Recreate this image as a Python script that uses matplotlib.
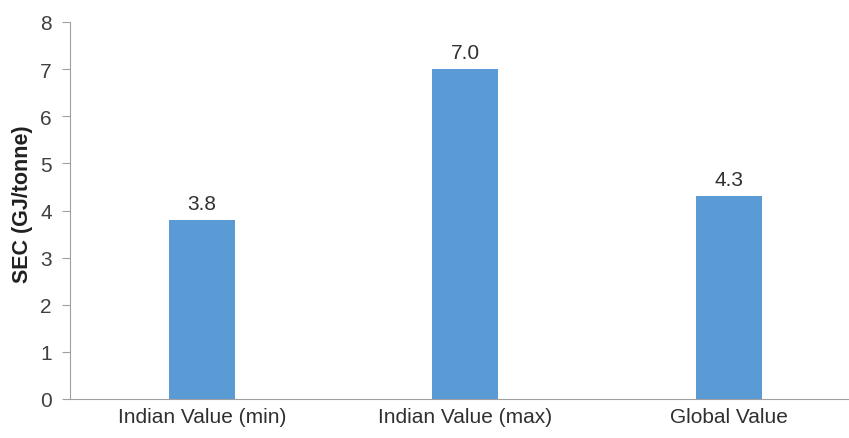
import matplotlib
matplotlib.use("Agg")
import matplotlib.pyplot as plt

categories = ["Indian Value (min)", "Indian Value (max)", "Global Value"]
sec_values = [3.8, 7.0, 4.3]
y_ticks = [0, 1, 2, 3, 4, 5, 6, 7, 8]

plt.rcParams["font.family"] = ["Liberation Sans", "DejaVu Sans"]

fig = plt.figure(figsize=(8.49, 4.39), dpi=100)
ax = fig.add_axes([70 / 849, 1 - 400 / 439, 1 - 70 / 849, (400 - 23) / 439])

x = range(len(categories))
bars = ax.bar(x, sec_values, width=0.25, color="#5B9BD5")
for b, v in zip(bars, sec_values):
    ax.text(b.get_x() + b.get_width() / 2, v + 0.15, f"{v:.1f}",
            ha="center", va="bottom", fontsize=15, color="#303030")

ax.set_xlim(-0.5, 2.455)
ax.set_ylim(0, 8)
ax.set_yticks(y_ticks)
ax.set_xticks(list(x))
ax.set_xticklabels(categories)
ax.tick_params(axis="x", length=0, pad=6, labelsize=15, labelcolor="#303030")
ax.tick_params(axis="y", length=6, width=0.8, color="#A0A0A0", pad=7,
               labelsize=15, labelcolor="#404040")
ax.set_ylabel("SEC (GJ/tonne)", fontsize=15.5, fontweight="bold", color="#202020")
ax.yaxis.set_label_coords(-0.047, 0.52)

for side in ["top", "right"]:
    ax.spines[side].set_visible(False)
ax.spines["left"].set_color("#A0A0A0")
ax.spines["bottom"].set_color("#A0A0A0")

fig.savefig("out.png", dpi=100)
